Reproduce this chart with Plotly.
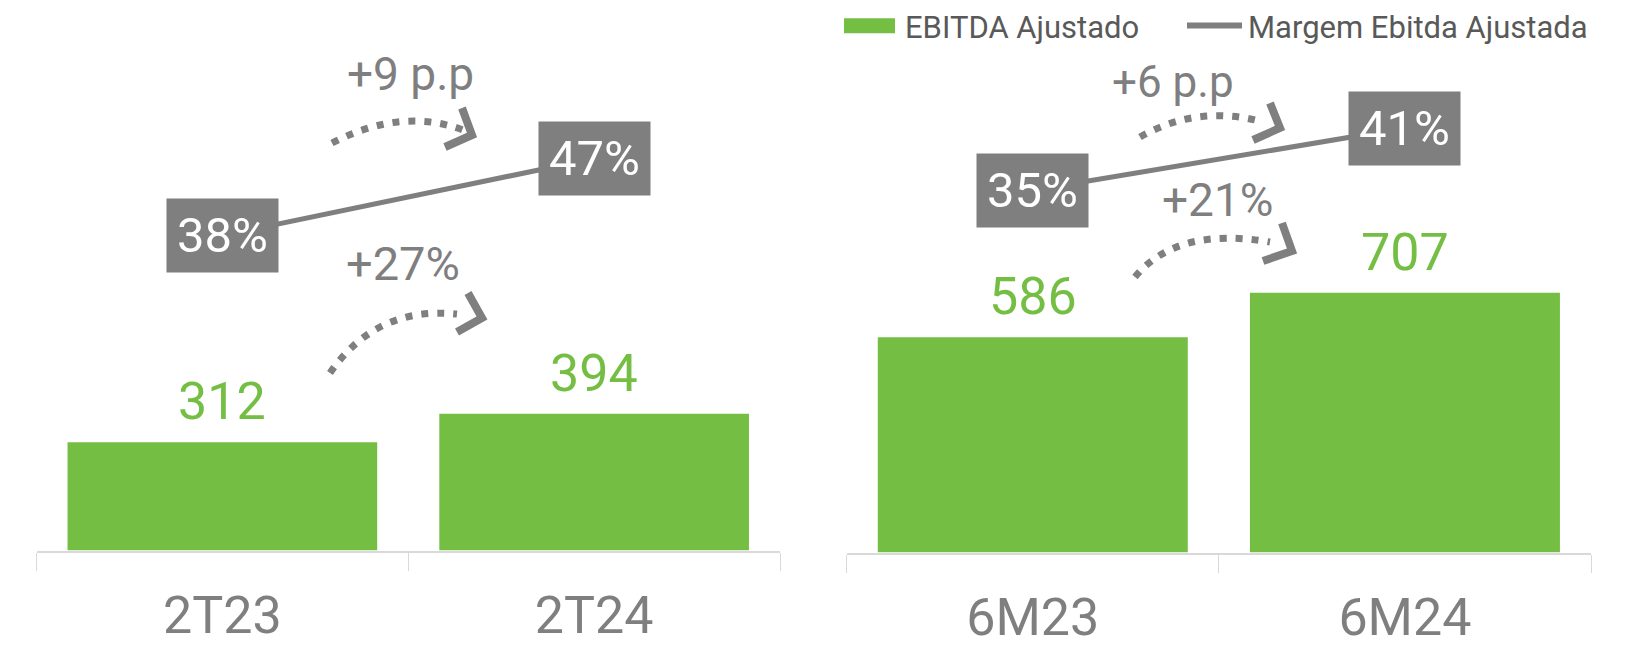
import plotly.graph_objects as go

# ---------------- data ----------------
cats_tri = ["2T23", "2T24"]
ebitda_tri = [312, 394]
margem_tri = [0.38, 0.47]

cats_sem = ["6M23", "6M24"]
ebitda_sem = [586, 707]
margem_sem = [0.35, 0.41]

var_margem_tri = "+9 p.p"
var_ebitda_tri = "+27%"
var_margem_sem = "+6 p.p"
var_ebitda_sem = "+21%"

legend_bar = "EBITDA Ajustado"
legend_line = "Margem Ebitda Ajustada"

# ---------------- style ----------------
W, H = 1635, 648
OFF = 8  # page offset of the plot div
GREEN = "#75BE44"
GRAY = "#7F7F7F"
AXIS = "#D9D9D9"
LEG_TXT = "#595959"
FONT = "Roboto, DejaVu Sans, sans-serif"


def px(x):
    return (x - OFF) / W


def py(y):
    return 1 - (y - OFF) / H


fig = go.Figure()

fig.add_trace(go.Bar(x=cats_tri, y=ebitda_tri, marker=dict(color=GREEN, line=dict(width=0)),
                     xaxis="x", yaxis="y", name=legend_bar, hoverinfo="x+y"))
fig.add_trace(go.Scatter(x=cats_tri, y=margem_tri, mode="lines", line=dict(color=GRAY, width=5),
                         xaxis="x", yaxis="y2", name=legend_line))
fig.add_trace(go.Bar(x=cats_sem, y=ebitda_sem, marker=dict(color=GREEN, line=dict(width=0)),
                     xaxis="x2", yaxis="y3", name=legend_bar, hoverinfo="x+y"))
fig.add_trace(go.Scatter(x=cats_sem, y=margem_sem, mode="lines", line=dict(color=GRAY, width=5),
                         xaxis="x2", yaxis="y4", name=legend_line))

xcommon = dict(type="category", showline=True, linecolor=AXIS, linewidth=2, automargin=False,
               ticks="outside", tickson="boundaries", ticklen=18, tickcolor=AXIS, tickwidth=1,
               showgrid=False, zeroline=False, fixedrange=True,
               tickfont=dict(family=FONT, size=52, color=GRAY), ticklabelstandoff=18)
ycommon = dict(visible=False, showgrid=False, zeroline=False, fixedrange=True, automargin=False)

base_l = 550.5
base_r = 552.5

annotations = []
shapes = []

# value labels above bars
for xa, ya, cats, vals in (("x", "y", cats_tri, ebitda_tri), ("x2", "y3", cats_sem, ebitda_sem)):
    for c, v in zip(cats, vals):
        annotations.append(dict(x=c, y=v, xref=xa, yref=ya, text=str(v), showarrow=False,
                                xanchor="center", yanchor="bottom", yshift=8,
                                font=dict(family=FONT, size=52, color=GREEN)))

# margin boxes
for xa, ya, cats, vals in (("x", "y2", cats_tri, margem_tri), ("x2", "y4", cats_sem, margem_sem)):
    for c, v in zip(cats, vals):
        annotations.append(dict(x=c, y=v, xref=xa, yref=ya, text=f"{round(v*100)}%", showarrow=False,
                                xanchor="center", yanchor="middle", width=111, height=73,
                                bgcolor=GRAY, borderpad=0,
                                font=dict(family=FONT, size=49, color="white")))

# variation texts
for txt, cx, cy, sz in ((var_margem_tri, 410, 74, 46), (var_ebitda_tri, 403, 263, 47),
                        (var_margem_sem, 1173, 82, 44), (var_ebitda_sem, 1218, 200, 46)):
    annotations.append(dict(x=px(cx), y=py(cy), xref="paper", yref="paper", text=txt, showarrow=False,
                            xanchor="center", yanchor="middle",
                            font=dict(family=FONT, size=sz, color=GRAY)))

# curved dotted arrows
arrows = [
    ((332, 143), (402, 107), (463, 130), (472, 135), (462, 108), (445, 147)),
    ((330, 373), (376, 306), (457, 314), (482, 318), (468, 293), (457, 332)),
    ((1140, 137), (1198, 104), (1263, 122), (1280, 128), (1270, 103), (1253, 140)),
    ((1135, 277), (1177, 226), (1270, 242), (1292, 251), (1282, 223), (1263, 261)),
]
for p0, p1, p2, tip, a1, a2 in arrows:
    path = (f"M{px(p0[0])},{py(p0[1])} Q{px(p1[0])},{py(p1[1])} {px(p2[0])},{py(p2[1])}")
    shapes.append(dict(type="path", xref="paper", yref="paper", path=path,
                       line=dict(color=GRAY, width=7, dash="7px,9px")))
    head = (f"M{px(a1[0])},{py(a1[1])} L{px(tip[0])},{py(tip[1])} L{px(a2[0])},{py(a2[1])}")
    shapes.append(dict(type="path", xref="paper", yref="paper", path=head,
                       line=dict(color=GRAY, width=8)))

# legend (manual)
shapes.append(dict(type="rect", xref="paper", yref="paper", x0=px(844), x1=px(895), y0=py(33.3), y1=py(18.3),
                   fillcolor=GREEN, line=dict(width=0)))
shapes.append(dict(type="line", xref="paper", yref="paper", x0=px(1187), x1=px(1242), y0=py(25.5), y1=py(25.5),
                   line=dict(color=GRAY, width=6)))
annotations.append(dict(x=px(904), y=py(27), xref="paper", yref="paper", text=legend_bar, showarrow=False,
                        xanchor="left", yanchor="middle", borderpad=0,
                        font=dict(family=FONT, size=31, color=LEG_TXT)))
annotations.append(dict(x=px(1247), y=py(27), xref="paper", yref="paper", text=legend_line, showarrow=False,
                        xanchor="left", yanchor="middle", borderpad=0,
                        font=dict(family=FONT, size=31, color=LEG_TXT)))

fig.update_layout(
    width=W, height=H,
    margin=dict(l=0, r=0, t=0, b=0, autoexpand=False),
    paper_bgcolor="white", plot_bgcolor="white",
    showlegend=False,
    bargap=0.167,
    xaxis=dict(domain=[px(36.5), px(780)], anchor="y", **xcommon),
    xaxis2=dict(domain=[px(846.7), px(1591)], anchor="y3", **xcommon),
    yaxis=dict(domain=[py(base_l), 1], range=[0, 1562], anchor="x", **ycommon),
    yaxis2=dict(overlaying="y", range=[0.0118, 0.6459], anchor="x", **ycommon),
    yaxis3=dict(domain=[py(base_r), 1], range=[0, 1482], anchor="x2", **ycommon),
    yaxis4=dict(overlaying="y3", range=[0.0012, 0.5256], anchor="x2", **ycommon),
    annotations=annotations,
    shapes=shapes,
)

fig.write_html("out.html")
